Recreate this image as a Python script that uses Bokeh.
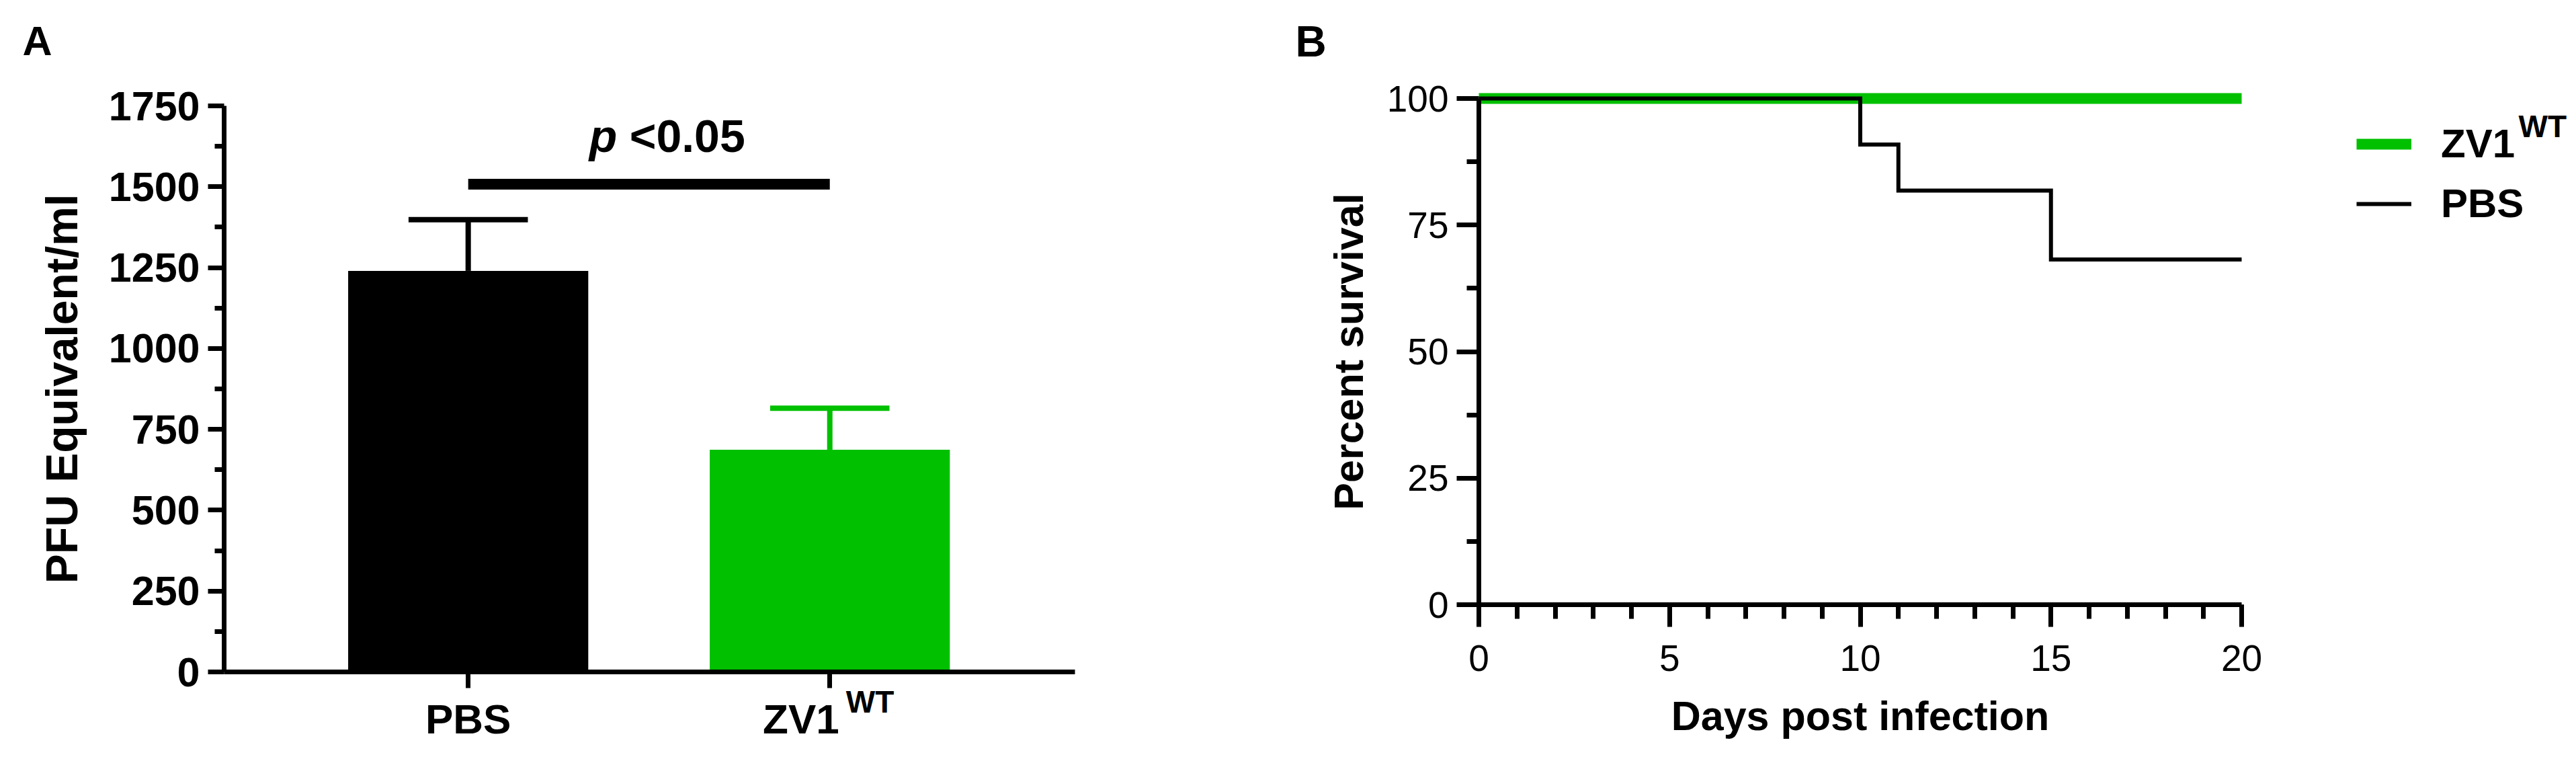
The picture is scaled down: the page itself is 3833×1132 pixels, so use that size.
from bokeh.plotting import figure
from bokeh.models import Range1d, FixedTicker, Label, Legend, LegendItem, ColumnDataSource
from bokeh.layouts import row, column
from bokeh.embed import file_html
from bokeh.resources import INLINE

FONT = "Liberation Sans"
GREEN = "#00c000"

# ---------------- Panel A data ----------------
groups = ["PBS", "ZV1"]
group_sup = ["", "WT"]
group_pos = [1, 2]
pfu_mean = [1240, 687]
pfu_sem = [158, 128]
bar_colors = ["black", GREEN]
pfu_ticks = [0, 250, 500, 750, 1000, 1250, 1500, 1750]
sig_y = 1508
sig_text = "<0.05"

# ---------------- Panel B data ----------------
days_zv1 = [0, 20]
surv_zv1 = [100, 100]
days_pbs = [0, 10, 11, 15, 20]
surv_pbs = [100, 90.9, 81.8, 68.2, 68.2]
day_ticks = [0, 5, 10, 15, 20]
surv_ticks = [0, 25, 50, 75, 100]
legend_labels = ["ZV1", "PBS"]
legend_sup = "WT"


def style_axis(ax, lw, tick_out, minor_out, lab_size, lab_style, standoff):
    ax.axis_line_width = lw
    ax.axis_line_color = "black"
    ax.major_tick_line_width = lw
    ax.minor_tick_line_width = lw
    ax.major_tick_line_color = "black"
    ax.minor_tick_line_color = "black"
    ax.major_tick_in = 0
    ax.minor_tick_in = 0
    ax.major_tick_out = tick_out
    ax.minor_tick_out = minor_out
    ax.major_label_text_font = FONT
    ax.major_label_text_font_size = lab_size
    ax.major_label_text_font_style = lab_style
    ax.major_label_text_color = "black"
    ax.major_label_standoff = standoff
    ax.axis_label_text_font = FONT
    ax.axis_label_text_font_style = "bold"
    ax.axis_label_text_color = "black"


def txt(**kw):
    d = dict(text_font=FONT, text_font_style="bold", text_color="black",
             text_baseline="alphabetic", text_align="left")
    d.update(kw)
    return Label(**d)


# ================= Panel A (one frame covering the whole panel) =================
WA, HA, TOP_A = 1900, 1131, 25
AX_X0, AX_X1 = 0.325, 2.678          # x-axis extent (data)
PX_X_A = 538.04                      # px per category unit
AXIS_LEFT_A = 333                    # px position of y axis
PX_Y_A = 842 / 1750                  # px per PFU unit
Y_TOP_A, Y_ZERO_A = 157, 999         # px positions of 1750 and 0

xr_a = Range1d(AX_X0 - AXIS_LEFT_A / PX_X_A,
               AX_X0 + (WA - AXIS_LEFT_A) / PX_X_A)
yr_a = Range1d(-(HA - Y_ZERO_A) / PX_Y_A,
               pfu_ticks[-1] + (Y_TOP_A - TOP_A) / PX_Y_A)

pa = figure(width=WA, height=HA, x_range=xr_a, y_range=yr_a,
            title=None, toolbar_location=None, output_backend="svg",
            frame_align=False, min_border_left=0, min_border_right=0,
            min_border_top=TOP_A, min_border_bottom=0)
pa.outline_line_color = None
pa.xgrid.visible = False
pa.ygrid.visible = False

src_a = ColumnDataSource(dict(
    x=group_pos, mean=pfu_mean,
    top=[m + s for m, s in zip(pfu_mean, pfu_sem)],
    color=bar_colors))

pa.vbar(x="x", top="mean", bottom=0, width=0.664, source=src_a,
        fill_color="color", line_color=None)
pa.segment(x0="x", y0="mean", x1="x", y1="top", source=src_a,
           line_color="color", line_width=8)
pa.rect(x="x", y="top", width=0.33, height=8, height_units="screen",
        source=src_a, fill_color="color", line_color=None)
pa.segment(x0=[group_pos[0]], y0=[sig_y], x1=[group_pos[1]], y1=[sig_y],
           line_color="black", line_width=16)

ya = pa.yaxis[0]
ya.fixed_location = AX_X0
ya.bounds = (pfu_ticks[0], pfu_ticks[-1])
ya.ticker = FixedTicker(ticks=pfu_ticks,
                        minor_ticks=[t + 125 for t in pfu_ticks[:-1]])
style_axis(ya, 7, 24, 14, "61px", "bold", 12)
ya.axis_label = "PFU Equivalent/ml"
ya.axis_label_text_font_size = "66px"
ya.axis_label_standoff = 30

xa = pa.xaxis[0]
xa.fixed_location = 0
xa.bounds = (AX_X0, AX_X1)
xa.ticker = FixedTicker(ticks=group_pos, minor_ticks=[])
style_axis(xa, 7, 24, 0, "1px", "bold", 0)
xa.major_label_overrides = {1: "", 2: ""}

pa.add_layout(txt(x=1.5, y=sig_y, text="p", text_font_style="bold italic",
                  x_offset=-89, y_offset=72, text_font_size="68px"))
pa.add_layout(txt(x=1.5, y=sig_y, text=sig_text,
                  x_offset=-29, y_offset=72, text_font_size="68px"))
pa.add_layout(txt(x=group_pos[0], y=0, text=groups[0], text_align="center",
                  y_offset=-70, text_font_size="62px"))
pa.add_layout(txt(x=group_pos[1], y=0, text=groups[1], text_align="right",
                  x_offset=14, y_offset=-70, text_font_size="62px"))
pa.add_layout(txt(x=group_pos[1], y=0, text=group_sup[1], x_offset=24,
                  y_offset=-44, text_font_size="46px"))
pa.add_layout(txt(x=AX_X0, y=pfu_ticks[-1], text="A", x_offset=-300,
                  y_offset=97, text_font_size="61px"))

# ================= Panel B =================
WB, HB, TOP_B, HB_STRIP = 1930, 1015, 25, 116
AXIS_LEFT_B = 300                    # px position of y axis in panel B
PX_X_B = 56.75                       # px per day
PX_Y_B = 7.53                        # px per percent
Y100_B, Y0_B = 146, 899              # page px of 100 % and 0 %

xr_b = Range1d(-AXIS_LEFT_B / PX_X_B, (WB - AXIS_LEFT_B) / PX_X_B)
yr_b = Range1d(-(HB - Y0_B) / PX_Y_B, 100 + (Y100_B - TOP_B) / PX_Y_B)

pb = figure(width=WB, height=HB, x_range=xr_b, y_range=yr_b,
            title=None, toolbar_location=None, output_backend="svg",
            frame_align=False, min_border_left=0, min_border_right=0,
            min_border_top=TOP_B, min_border_bottom=0)
pb.outline_line_color = None
pb.xgrid.visible = False
pb.ygrid.visible = False

r_zv1 = pb.line(days_zv1, surv_zv1, line_color=GREEN, line_width=16,
                line_cap="butt")
r_pbs = pb.step(days_pbs, surv_pbs, mode="after", line_color="black",
                line_width=6, line_join="miter")

yb = pb.yaxis[0]
yb.fixed_location = day_ticks[0]
yb.bounds = (surv_ticks[0], surv_ticks[-1])
yb.ticker = FixedTicker(ticks=surv_ticks,
                        minor_ticks=[t + 12.5 for t in surv_ticks[:-1]])
style_axis(yb, 7, 33, 18, "55px", "normal", 12)
yb.axis_label = "Percent survival"
yb.axis_label_text_font_size = "61px"
yb.axis_label_standoff = 20

xb = pb.xaxis[0]
xb.fixed_location = surv_ticks[0]
xb.bounds = (day_ticks[0], day_ticks[-1])
xb.ticker = FixedTicker(ticks=day_ticks,
                        minor_ticks=list(range(day_ticks[0], day_ticks[-1] + 1)))
style_axis(xb, 7, 33, 21, "55px", "normal", 27)

legend = Legend(items=[LegendItem(label=legend_labels[0], renderers=[r_zv1]),
                       LegendItem(label=legend_labels[1], renderers=[r_pbs])],
                location=(1606, HB - 337), orientation="vertical",
                glyph_width=82, glyph_height=60, label_height=60,
                label_standoff=44, spacing=20, padding=0, margin=0,
                border_line_color=None, background_fill_alpha=0,
                label_text_font=FONT, label_text_font_size="60px",
                label_text_font_style="bold", label_text_color="black")
pb.add_layout(legend)
pb.add_layout(txt(x=day_ticks[-1], y=100, text=legend_sup, x_offset=412,
                  y_offset=-41, text_font_size="46px"))
pb.add_layout(txt(x=day_ticks[0], y=100, text="B", x_offset=-273,
                  y_offset=85, text_font_size="64px"))

botB = figure(width=WB, height=HB_STRIP, title=None, x_range=xr_b,
              y_range=Range1d(0, HB_STRIP), x_axis_type=None, y_axis_type=None,
              toolbar_location=None, output_backend="svg", frame_align=False,
              min_border_left=0, min_border_right=0,
              min_border_top=0, min_border_bottom=0)
botB.outline_line_color = None
botB.add_layout(txt(x=(day_ticks[0] + day_ticks[-1]) / 2, y=67,
                    text="Days post infection", text_align="center",
                    text_font_size="61px"))

layout = row(pa, column(pb, botB, spacing=0), spacing=0)
open("out.html", "w").write(file_html(layout, INLINE))
